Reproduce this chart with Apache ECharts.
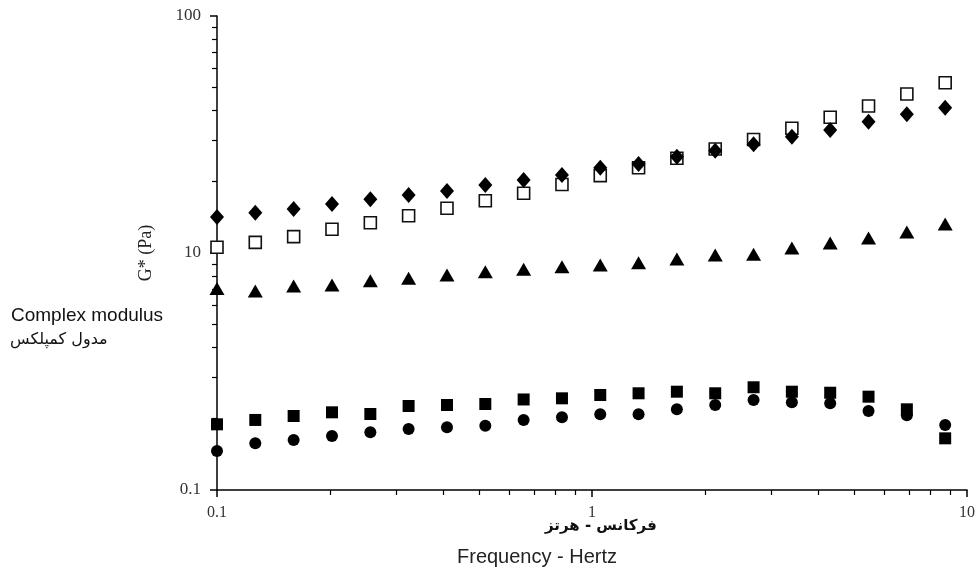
<!DOCTYPE html>
<html>
<head>
<meta charset="utf-8">
<script src="https://cdn.jsdelivr.net/npm/echarts@6/dist/echarts.min.js"></script>
<style>
html,body{margin:0;padding:0;background:#fff;}
#chart{width:978px;height:574px;}
</style>
</head>
<body>
<div id="chart"></div>
<script>
// Frequency (Hz)
var frequency = [0.1, 0.1265, 0.1601, 0.2026, 0.2564, 0.3243, 0.4105, 0.5194, 0.6572, 0.8316,
                 1.052, 1.331, 1.684, 2.131, 2.697, 3.412, 4.317, 5.463, 6.912, 8.746];
// G* series (values read on the visual scale of the plot)
var seriesDiamond = [14.19, 14.79, 15.34, 16.10, 16.85, 17.57, 18.26, 19.36, 20.32, 21.34,
                     22.9, 23.74, 25.49, 27.02, 28.75, 30.96, 33.04, 35.81, 38.48, 41.03];
var seriesOpenSquare = [10.57, 11.09, 11.72, 12.59, 13.42, 14.37, 15.44, 16.62, 17.86, 19.45,
                        21.2, 22.9, 25.09, 27.47, 30.13, 33.6, 37.37, 41.72, 46.88, 52.3];
var seriesTriangle = [7.08, 6.91, 7.26, 7.33, 7.64, 7.82, 8.08, 8.34, 8.53, 8.75,
                      8.90, 9.10, 9.43, 9.81, 9.87, 10.5, 11.02, 11.57, 12.27, 13.26];
var seriesSquare = [1.893, 1.975, 2.052, 2.127, 2.093, 2.262, 2.284, 2.306, 2.41, 2.437,
                    2.517, 2.559, 2.599, 2.559, 2.713, 2.599, 2.573, 2.476, 2.19, 1.652];
var seriesCircle = [1.461, 1.574, 1.626, 1.69, 1.752, 1.809, 1.839, 1.867, 1.975, 2.027,
                    2.086, 2.086, 2.19, 2.284, 2.397, 2.344, 2.322, 2.154, 2.066, 1.880];
// Tick labels as printed on the picture
var xTickValues = [0.1, 1, 10];
var xTickLabels = ['0.1', '1', '10'];
var yTickValues = [1, 10, 100];
var yTickLabels = ['0.1', '10', '100'];

function pairs(ys) { return frequency.map(function (f, i) { return [f, ys[i]]; }); }
function lookup(vals, labels, v) {
  var lv = Math.log10(v);
  for (var i = 0; i < vals.length; i++) {
    if (Math.abs(Math.log10(vals[i]) - lv) < 1e-6) return labels[i];
  }
  return '';
}

var chart = echarts.init(document.getElementById('chart'), null, {renderer: 'canvas'});
var axisCommon = {
  axisLine: {show: true, lineStyle: {color: '#000', width: 1.5}},
  axisTick: {show: true, inside: false, length: 7, lineStyle: {color: '#000', width: 1.5}},
  minorTick: {show: true, splitNumber: 9, length: 5, lineStyle: {color: '#000', width: 1.2}},
  splitLine: {show: false},
  minorSplitLine: {show: false}
};
var option = {
  animation: false,
  backgroundColor: '#fff',
  grid: {left: 217, top: 16, width: 750, height: 474, containLabel: false},
  xAxis: Object.assign({
    type: 'log', logBase: 10, min: 0.1, max: 10,
    axisLabel: {
      margin: 15, color: '#333', fontFamily: 'Liberation Serif', fontSize: 16,
      formatter: function (v) { return lookup(xTickValues, xTickLabels, v); }
    }
  }, axisCommon),
  yAxis: Object.assign({
    type: 'log', logBase: 10, min: 1, max: 100,
    name: 'G* (Pa)', nameLocation: 'middle', nameRotate: 90, nameGap: 62,
    nameTextStyle: {color: '#222', fontFamily: 'Liberation Serif', fontSize: 18},
    axisLabel: {
      margin: 16, color: '#333', fontFamily: 'Liberation Serif', fontSize: 17,
      formatter: function (v) { return lookup(yTickValues, yTickLabels, v); }
    }
  }, axisCommon),
  graphic: [
    {type: 'text', left: 11, top: 306, style: {text: 'Complex modulus', fill: '#111', font: '19px "Liberation Sans"'}},
    {type: 'text', left: 10, top: 332, style: {text: 'مدول کمپلکس', fill: '#111', font: '16px "DejaVu Sans"'}},
    {type: 'text', left: 545, top: 519, style: {text: 'فرکانس - هرتز', fill: '#111', font: 'bold 15px "DejaVu Sans"'}},
    {type: 'text', left: 457, top: 547, style: {text: 'Frequency - Hertz', fill: '#222', font: '20px "Liberation Sans"'}}
  ],
  series: [
    {type: 'scatter', name: 'open square', data: pairs(seriesOpenSquare), symbol: 'rect', symbolSize: 12,
     itemStyle: {color: '#fff', borderColor: '#111', borderWidth: 1.6, opacity: 1}, z: 2},
    {type: 'scatter', name: 'diamond', data: pairs(seriesDiamond), symbol: 'diamond', symbolSize: [14, 16],
     itemStyle: {color: '#000', opacity: 1}, z: 3},
    {type: 'scatter', name: 'triangle', data: pairs(seriesTriangle), symbol: 'triangle', symbolSize: [15, 13],
     itemStyle: {color: '#000', opacity: 1}, z: 3},
    {type: 'scatter', name: 'square', data: pairs(seriesSquare), symbol: 'rect', symbolSize: 12,
     itemStyle: {color: '#000', opacity: 1}, z: 3},
    {type: 'scatter', name: 'circle', data: pairs(seriesCircle), symbol: 'circle', symbolSize: 12,
     itemStyle: {color: '#000', opacity: 1}, z: 3}
  ]
};
chart.setOption(option);
</script>
</body>
</html>
